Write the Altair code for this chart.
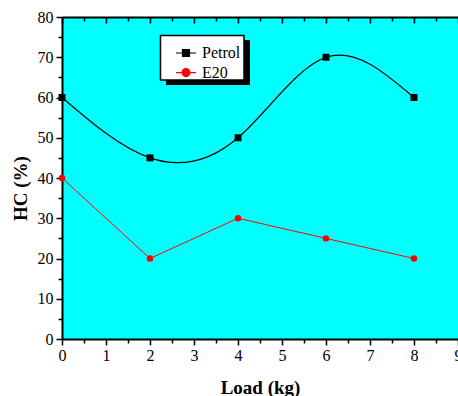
import altair as alt
import pandas as pd

# Engine load (kg) and HC emissions (%) for the two fuels
loads = [0, 2, 4, 6, 8]
petrol_hc = [60, 45, 50, 70, 60]
e20_hc = [40, 20, 30, 25, 20]
fuels = ["Petrol", "E20"]
fuel_colors = ["black", "red"]

# Axis tick positions
x_major = [0, 1, 2, 3, 4, 5, 6, 7, 8, 9]
x_minor = [0.5, 1.5, 2.5, 3.5, 4.5, 5.5, 6.5, 7.5, 8.5]
y_major = [0, 10, 20, 30, 40, 50, 60, 70, 80]
y_minor = [5, 15, 25, 35, 45, 55, 65, 75]

FONT = "Liberation Serif"

df = pd.DataFrame({
    "load": loads * 2,
    "hc": petrol_hc + e20_hc,
    "fuel": ["Petrol"] * len(loads) + ["E20"] * len(loads),
})
petrol = df[df.fuel == "Petrol"]
e20 = df[df.fuel == "E20"]

xs = alt.Scale(domain=[0, 9], nice=False, zero=False)
ys = alt.Scale(domain=[0, 80], nice=False, zero=False)

common = dict(grid=False, tickColor="black", domainColor="black", labelColor="black",
              titleColor="black")

bottom_major = alt.Axis(orient="bottom", values=x_major, format="d", tickSize=6, tickWidth=1.5,
                        domainWidth=2, labelFont=FONT, labelFontSize=16, labelPadding=2,
                        labelFlush=False, labelOverlap=False, labelBound=False,
                        title="Load (kg)", titleFont=FONT, titleFontSize=19,
                        titleFontWeight="bold", titleBaseline="alphabetic", titleY=54, **common)
bottom_minor = alt.Axis(orient="bottom", values=x_minor, tickSize=4, tickWidth=1.5,
                        labels=False, domain=False, title=None, **common)
top_domain = alt.Axis(orient="top", ticks=False, labels=False, domain=True, domainWidth=2,
                      title=None, **common)
top_major = alt.Axis(orient="top", offset=-6, values=x_major, tickSize=6, tickWidth=1.5,
                     labels=False, domain=False, title=None, **common)
top_minor = alt.Axis(orient="top", offset=-4, values=x_minor, tickSize=4, tickWidth=1.5,
                     labels=False, domain=False, title=None, **common)
left_major = alt.Axis(orient="left", values=y_major, format="d", tickSize=6, tickWidth=1.5,
                      domainWidth=2, labelFont=FONT, labelFontSize=16, labelPadding=3,
                      title="HC (%)", titleFont=FONT, titleFontSize=19, titleFontWeight="bold",
                      titleAngle=270, titleAlign="center", titleBaseline="middle",
                      titleX=-42, titleY=171, **common)
left_minor = alt.Axis(orient="left", values=y_minor, tickSize=4, tickWidth=1.5,
                      labels=False, domain=False, title=None, **common)

petrol_line = alt.Chart(petrol).mark_line(interpolate="natural", strokeWidth=1.2).encode(
    x=alt.X("load:Q", scale=xs, axis=bottom_major),
    y=alt.Y("hc:Q", scale=ys, axis=left_major),
    color=alt.value("black"),
)
petrol_pts = alt.Chart(petrol).mark_point(shape="square", filled=True, size=49, opacity=1).encode(
    x=alt.X("load:Q", scale=xs, axis=bottom_minor),
    y=alt.Y("hc:Q", scale=ys, axis=left_minor),
    color=alt.value("black"),
)
e20_line = alt.Chart(e20).mark_line(strokeWidth=1).encode(
    x=alt.X("load:Q", scale=xs, axis=top_domain),
    y=alt.Y("hc:Q", scale=ys, axis=None),
    color=alt.value("red"),
)
e20_pts = alt.Chart(e20).mark_point(shape="circle", filled=True, size=42, opacity=1).encode(
    x=alt.X("load:Q", scale=xs, axis=top_major),
    y=alt.Y("hc:Q", scale=ys, axis=None),
    color=alt.value("red"),
)

# Legend frame: black drop shadow, then white box with a black border
shadow = alt.Chart(alt.Data(values=[{}])).mark_rect(color="black").encode(
    x=alt.value(104), x2=alt.value(188), y=alt.value(23), y2=alt.value(68),
)
frame = alt.Chart(alt.Data(values=[{}])).mark_rect(
    fill="white", stroke="black", strokeWidth=1.5
).encode(
    x=alt.value(98.5), x2=alt.value(182), y=alt.value(18.5), y2=alt.value(63),
)

# Legend symbols: a short line with the series marker on it
petrol_sym = "M-2,0H2M-0.7,-0.7H0.7V0.7H-0.7Z"
e20_sym = "M-2,0H2M-0.8,0A0.8,0.8 0 1,0 0.8,0A0.8,0.8 0 1,0 -0.8,0Z"

legend = alt.Legend(title=None, orient="none", legendX=116, legendY=28,
                    padding=0, symbolSize=100, symbolStrokeWidth=1.2, symbolOpacity=1,
                    labelFont=FONT, labelFontSize=16, labelColor="black",
                    labelOffset=8, rowPadding=3.6)
legend_layer = alt.Chart(df).mark_point(filled=True, opacity=0).encode(
    x=alt.X("load:Q", scale=xs, axis=top_minor),
    y=alt.Y("hc:Q", scale=ys, axis=None),
    color=alt.Color("fuel:N", scale=alt.Scale(domain=fuels, range=fuel_colors), legend=legend),
    stroke=alt.Stroke("fuel:N", scale=alt.Scale(domain=fuels, range=fuel_colors), legend=legend),
    shape=alt.Shape("fuel:N", scale=alt.Scale(domain=fuels, range=[petrol_sym, e20_sym]),
                    legend=legend),
)

chart = alt.layer(
    petrol_line, petrol_pts, e20_line, e20_pts, shadow, frame, legend_layer
).resolve_axis(
    x="independent", y="independent"
).properties(
    width=396, height=322,
    padding={"left": 62, "top": 17, "right": 0, "bottom": 57},
    autosize=alt.AutoSizeParams(type="none"),
    background="white",
).configure_view(
    fill="#00FFFF", stroke=None,
).configure_legend(
    labelFont=FONT, labelFontSize=16,
)

chart.save("out.html", embed_options={"renderer": "svg", "actions": False})
